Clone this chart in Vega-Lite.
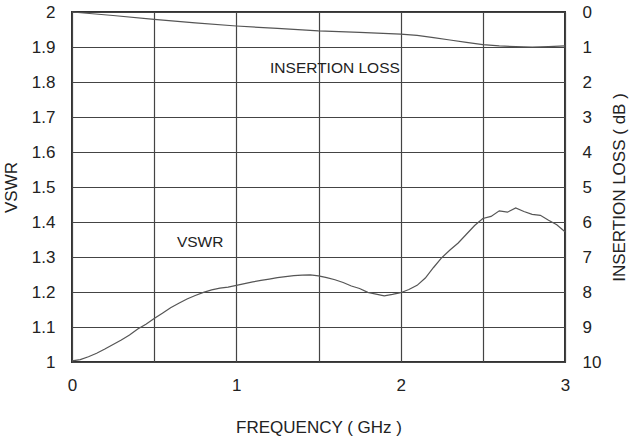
{
  "$schema": "https://vega.github.io/schema/vega-lite/v6.json",
  "width": 493,
  "height": 350,
  "autosize": {"type": "none"},
  "padding": {"left": 72, "top": 12, "right": 65, "bottom": 75},
  "background": "white",
  "config": {
    "view": {"stroke": "#333", "strokeWidth": 2},
    "font": "Liberation Sans",
    "axis": {"labelFont": "Liberation Sans", "titleFont": "Liberation Sans", "labelFontSize": 17, "titleFontSize": 17, "titleFontWeight": "normal", "labelColor": "#222", "titleColor": "#222", "ticks": false, "domain": false, "gridColor": "#444", "gridWidth": 1.2, "gridOpacity": 1, "labelFlush": false, "labelOverlap": false}
  },
  "datasets": {
    "vswr": [
      {"f": 0, "v": 1.003}, {"f": 0.05, "v": 1.007}, {"f": 0.1, "v": 1.015}, {"f": 0.15, "v": 1.025},
      {"f": 0.2, "v": 1.037}, {"f": 0.25, "v": 1.05}, {"f": 0.3, "v": 1.063}, {"f": 0.35, "v": 1.077},
      {"f": 0.4, "v": 1.094}, {"f": 0.45, "v": 1.108}, {"f": 0.5, "v": 1.124}, {"f": 0.55, "v": 1.139},
      {"f": 0.6, "v": 1.155}, {"f": 0.65, "v": 1.168}, {"f": 0.7, "v": 1.18}, {"f": 0.75, "v": 1.19},
      {"f": 0.8, "v": 1.199}, {"f": 0.85, "v": 1.206}, {"f": 0.9, "v": 1.211}, {"f": 0.95, "v": 1.214},
      {"f": 1.0, "v": 1.219}, {"f": 1.05, "v": 1.224}, {"f": 1.1, "v": 1.229}, {"f": 1.15, "v": 1.233},
      {"f": 1.2, "v": 1.237}, {"f": 1.25, "v": 1.241}, {"f": 1.3, "v": 1.244}, {"f": 1.35, "v": 1.247},
      {"f": 1.4, "v": 1.248}, {"f": 1.45, "v": 1.249}, {"f": 1.5, "v": 1.246}, {"f": 1.55, "v": 1.241},
      {"f": 1.6, "v": 1.235}, {"f": 1.65, "v": 1.227}, {"f": 1.7, "v": 1.217}, {"f": 1.75, "v": 1.21},
      {"f": 1.8, "v": 1.199}, {"f": 1.85, "v": 1.194}, {"f": 1.9, "v": 1.189}, {"f": 1.95, "v": 1.193},
      {"f": 2.0, "v": 1.198}, {"f": 2.05, "v": 1.207}, {"f": 2.1, "v": 1.219}, {"f": 2.15, "v": 1.24},
      {"f": 2.2, "v": 1.27}, {"f": 2.25, "v": 1.298}, {"f": 2.3, "v": 1.32}, {"f": 2.35, "v": 1.34},
      {"f": 2.4, "v": 1.365}, {"f": 2.45, "v": 1.39}, {"f": 2.5, "v": 1.41}, {"f": 2.55, "v": 1.416},
      {"f": 2.6, "v": 1.432}, {"f": 2.65, "v": 1.428}, {"f": 2.7, "v": 1.44}, {"f": 2.75, "v": 1.43},
      {"f": 2.8, "v": 1.422}, {"f": 2.85, "v": 1.419}, {"f": 2.9, "v": 1.405}, {"f": 2.95, "v": 1.392},
      {"f": 3.0, "v": 1.372}
    ],
    "loss": [
      {"f": 0, "il": 0}, {"f": 0.25, "il": 0.1}, {"f": 0.5, "il": 0.21}, {"f": 0.75, "il": 0.31},
      {"f": 1.0, "il": 0.4}, {"f": 1.25, "il": 0.47}, {"f": 1.5, "il": 0.54}, {"f": 1.75, "il": 0.58},
      {"f": 2.0, "il": 0.63}, {"f": 2.1, "il": 0.67}, {"f": 2.2, "il": 0.73}, {"f": 2.3, "il": 0.8},
      {"f": 2.4, "il": 0.87}, {"f": 2.5, "il": 0.93}, {"f": 2.6, "il": 0.97}, {"f": 2.7, "il": 0.99},
      {"f": 2.8, "il": 1.0}, {"f": 2.9, "il": 0.99}, {"f": 3.0, "il": 0.97}
    ],
    "notes": [
      {"f": 1.6, "v": 1.84, "text": "INSERTION LOSS"},
      {"f": 0.78, "v": 1.343, "text": "VSWR"}
    ]
  },
  "layer": [
    {
      "data": {"name": "vswr"},
      "mark": {"type": "line", "color": "#555", "strokeWidth": 1.2},
      "encoding": {
        "x": {"field": "f", "type": "quantitative", "scale": {"domain": [0, 3], "nice": false},
          "axis": {"title": "FREQUENCY ( GHz )", "values": [0, 0.5, 1, 1.5, 2, 2.5, 3], "format": "~g", "labelExpr": "datum.value % 1 === 0 ? datum.label : ''", "labelPadding": 15, "titlePadding": 26, "grid": true}},
        "y": {"field": "v", "type": "quantitative", "scale": {"domain": [1, 2], "nice": false, "zero": false},
          "axis": {"title": "VSWR", "orient": "left", "values": [1, 1.1, 1.2, 1.3, 1.4, 1.5, 1.6, 1.7, 1.8, 1.9, 2], "format": "~g", "labelPadding": 17, "titleX": -52, "titleY": 175, "grid": true}}
      }
    },
    {
      "data": {"name": "loss"},
      "mark": {"type": "line", "color": "#555", "strokeWidth": 1.2},
      "encoding": {
        "x": {"field": "f", "type": "quantitative"},
        "y": {"field": "il", "type": "quantitative", "scale": {"domain": [0, 10], "reverse": true, "nice": false},
          "axis": {"title": "INSERTION LOSS ( dB )", "orient": "right", "values": [0, 1, 2, 3, 4, 5, 6, 7, 8, 9, 10], "labelPadding": 17, "titleAngle": -90, "titleBaseline": "bottom", "titleX": 63, "titleY": 175, "grid": false}}
      }
    },
    {
      "data": {"name": "notes"},
      "mark": {"type": "text", "font": "Liberation Sans", "fontSize": 15.5, "color": "#222"},
      "encoding": {
        "x": {"field": "f", "type": "quantitative"},
        "y": {"field": "v", "type": "quantitative", "scale": {"domain": [1, 2]}, "axis": null},
        "text": {"field": "text"}
      }
    }
  ],
  "resolve": {"scale": {"y": "independent"}}
}
